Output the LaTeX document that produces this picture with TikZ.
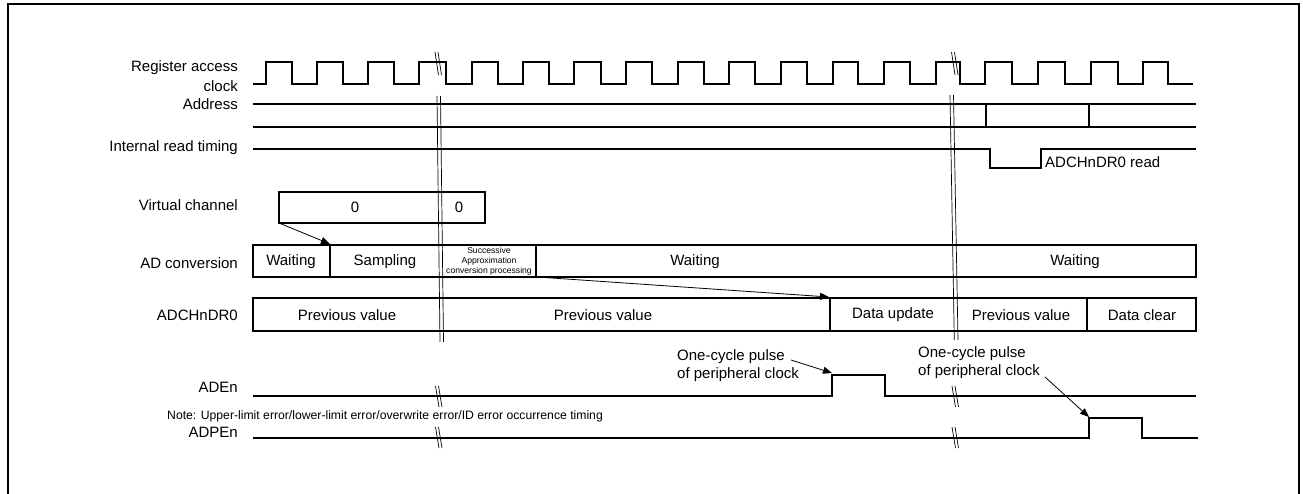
\documentclass[tikz,border=0pt]{standalone}
\usepackage{fontspec}
\setmainfont{Liberation Sans}
\usetikzlibrary{arrows.meta}
\begin{document}
\begin{tikzpicture}[x=1pt,y=-1pt,
  sig/.style={line width=1.8pt,line join=miter},
  boxl/.style={line width=1.8pt},
  brk/.style={line width=0.7pt},
  lbl/.style={anchor=east,inner sep=0pt,font=\fontsize{15}{17}\selectfont},
  txt/.style={inner sep=0pt,font=\fontsize{15}{17}\selectfont},
  arr/.style={line width=0.8pt,-{Triangle[length=9pt,width=7pt]}}]
\useasboundingbox (0,0) rectangle (1303,494);
% frame
\draw[line width=2.2pt] (8,494) -- (8,4) -- (1299,4) -- (1299,494);
% labels
\node[lbl] (l1) at (238,68) {Register access};
\node[lbl] (l2) at (238,86) {clock};
\node[lbl] (l3) at (238,104) {Address};
\node[lbl] (l4) at (238,148) {Internal read timing};
\node[lbl] (l5) at (238,205) {Virtual channel};
\node[lbl] (l6) at (238,263) {AD conversion};
\node[lbl] (l7) at (238,315) {ADCHnDR0};
\node[lbl] (l8) at (238,387) {ADEn};
\node[lbl] (l9) at (238,432) {ADPEn};
\node[anchor=west,inner sep=0pt,font=\fontsize{12.2}{14}\selectfont] (note) at (167,416) {Note: Upper-limit error/lower-limit error/overwrite error/ID error occurrence timing};
% clock
\draw[sig] (253,84) -| (266,62) -| (292,84) -| (317,62) -| (343,84) -| (368,62) -| (394,84) -| (419,62) -| (446,84) -| (472,62) -| (498,84) -| (523,62) -| (549,84) -| (574,62) -| (601,84) -| (626,62) -| (652,84) -| (678,62) -| (704,84) -| (729,62) -| (755,84) -| (781,62) -| (807,84) -| (833,62) -| (858,84) -| (884,62) -| (910,84) -| (936,62) -| (960,84) -| (985,62) -| (1012,84) -| (1038,62) -| (1065,84) -| (1091,62) -| (1118,84) -| (1143,62) -| (1168,84) -- (1193,84);
% address
\draw[sig] (253,104) -- (1196,104);
\draw[sig] (253,127) -- (1196,127);
\draw[sig] (986,104) -- (986,127);
\draw[sig] (1089,104) -- (1089,127);
% internal read
\draw[sig] (253,149) -| (990,168) -| (1041,149) -- (1196,149);
\node[anchor=west,txt] (rd) at (1045,162) {ADCHnDR0 read};
% virtual channel
\draw[boxl] (279,192) rectangle (485,223);
\node[txt] (v0) at (355,207) {0};
\node[txt] (v1) at (459,207) {0};
% AD conversion
\draw[boxl] (253,245) rectangle (1196,277);
\draw[boxl] (330,245) -- (330,277);
\draw[boxl] (536,245) -- (536,277);
\node[txt] (w1) at (291,262) {Waiting};
\node[txt] (s1) at (385,262) {Sampling};
\node[inner sep=0pt,align=center,font=\fontsize{8.6}{10}\selectfont] (sa) at (489,261) {Successive\\Approximation\\conversion processing};
\node[txt] (w2) at (695,262) {Waiting};
\node[txt] (w3) at (1075,262) {Waiting};
% ADCHnDR0
\draw[boxl] (253,298) rectangle (1196,331);
\draw[boxl] (830,298) -- (830,331);
\draw[boxl] (1087,298) -- (1087,331);
\node[txt] (p1) at (347,315) {Previous value};
\node[txt] (p2) at (603,315) {Previous value};
\node[txt] (du) at (893,315) {Data update};
\node[txt] (p3) at (1021,315) {Previous value};
\node[txt] (dc) at (1142,315) {Data clear};
% arrows
\coordinate (va) at (279,223);
\coordinate (vb) at (330,244);
\draw[arr] (va) -- (vb);
\coordinate (aa) at (537,277);
\coordinate (ab) at (829,297);
\draw[arr] (aa) -- (ab);
% ADEn / ADPEn
\draw[sig] (253,396) -| (832,375) -| (885,396) -- (1196,396);
\draw[sig] (253,438) -| (1089,418) -| (1142,438) -- (1198,438);
\node[anchor=west,inner sep=0pt,align=left,font=\fontsize{15}{18}\selectfont] (c1) at (677,366) {One-cycle pulse\\of peripheral clock};
\node[anchor=west,inner sep=0pt,align=left,font=\fontsize{15}{18}\selectfont] (c2) at (918,363) {One-cycle pulse\\of peripheral clock};
\coordinate (c1a) at (791,360);
\coordinate (c1b) at (832,373);
\draw[arr] (c1a) -- (c1b);
\coordinate (c2a) at (1045,377);
\coordinate (c2b) at (1089,417);
\draw[arr] (c2a) -- (c2b);
% break lines
\draw[brk] (437,96) -- (440,342);
\draw[brk] (440.5,96) -- (443.5,342);
\draw[brk] (950,95) -- (954.3,340);
\draw[brk] (953.5,95) -- (958,340);
% break marks
\foreach \x in {435,951.5}{
  \draw[brk] (\x,52) -- (\x+3.5,75);
  \draw[brk] (\x+3,52) -- (\x+6.5,75);
  \draw[brk] (\x+0.5,386) -- (\x+4,407);
  \draw[brk] (\x+3.5,386) -- (\x+7,407);
  \draw[brk] (\x+0.5,427) -- (\x+4,448);
  \draw[brk] (\x+3.5,427) -- (\x+7,448);
}
\end{tikzpicture}
\end{document}
